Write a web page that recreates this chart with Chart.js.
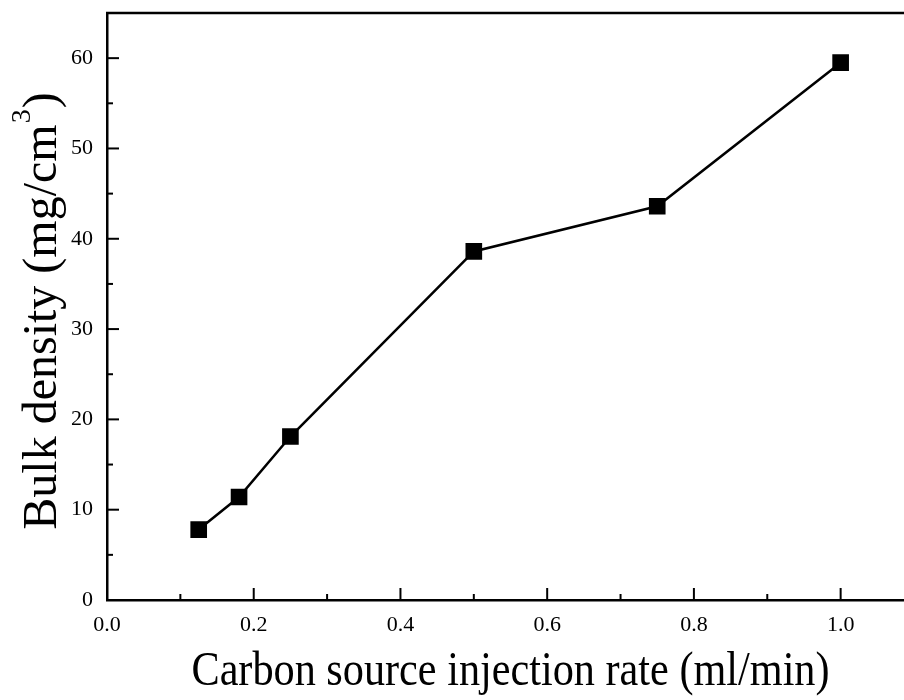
<!DOCTYPE html>
<html>
<head>
<meta charset="utf-8">
<script src="https://cdn.jsdelivr.net/npm/chart.js@4"></script>
<style>
    html, body { margin: 0; padding: 0; background: #fff; overflow: hidden; }
    #wrap { width: 904px; height: 700px; overflow: hidden; position: relative; }
    /* plot runs a little past the right edge, like the cropped original */
    #inner { width: 914px; height: 700px; position: absolute; left: 0; top: 0; }
</style>
</head>
<body>
<div id="wrap"><div id="inner"><canvas id="densityChart"></canvas></div></div>
<script>
// --- Data ---
const injectionRates = [0.125, 0.18, 0.25, 0.5, 0.75, 1.0];   // ml/min
const bulkDensity    = [7.8, 11.4, 18.1, 38.6, 43.6, 59.5];   // mg/cm3
const xTickValues    = [0, 0.2, 0.4, 0.6, 0.8, 1.0];
const xMinorValues   = [0.1, 0.3, 0.5, 0.7, 0.9];
const yTickValues    = [0, 10, 20, 30, 40, 50, 60];
const yMinorValues   = [5, 15, 25, 35, 45, 55];
const xTitle = 'Carbon source injection rate (ml/min)';

const FONT = "'Liberation Serif', 'Times New Roman', serif";

// Draws inward ticks, the top frame line and both axis titles
const frameAndTicks = {
    id: 'frameAndTicks',
    afterDraw(chart) {
        const ctx = chart.ctx;
        const area = chart.chartArea;
        const xs = chart.scales.x;
        const ys = chart.scales.y;
        ctx.save();
        ctx.strokeStyle = '#000';
        ctx.lineWidth = 2.5;
        // top frame line
        ctx.beginPath();
        ctx.moveTo(area.left - 1, area.top);
        ctx.lineTo(area.right + 2, area.top);
        ctx.stroke();

        ctx.lineWidth = 2;
        function tickX(v, len) {
            const px = xs.getPixelForValue(v);
            ctx.beginPath();
            ctx.moveTo(px, area.bottom);
            ctx.lineTo(px, area.bottom - len);
            ctx.stroke();
        }
        function tickY(v, len) {
            const py = ys.getPixelForValue(v);
            ctx.beginPath();
            ctx.moveTo(area.left, py);
            ctx.lineTo(area.left + len, py);
            ctx.stroke();
        }
        xTickValues.forEach(v => tickX(v, 12));
        xMinorValues.forEach(v => tickX(v, 6));
        yTickValues.forEach(v => tickY(v, 12));
        yMinorValues.forEach(v => tickY(v, 6));

        ctx.fillStyle = '#000';
        ctx.textBaseline = 'alphabetic';

        // x axis title (slightly condensed like the original)
        ctx.save();
        ctx.font = '48px ' + FONT;
        ctx.textAlign = 'center';
        ctx.translate((area.left + area.right) / 2, 685);
        ctx.scale(0.88, 1);
        ctx.fillText(xTitle, 0, 0);
        ctx.restore();

        // y axis title: Bulk density (mg/cm^3)
        const main = 'Bulk density (mg/cm';
        const sup = '3';
        const tail = ')';
        ctx.font = '48px ' + FONT;
        const wMain = ctx.measureText(main).width;
        const wTail = ctx.measureText(tail).width;
        ctx.font = '28px ' + FONT;
        const wSup = ctx.measureText(sup).width;
        const total = wMain + wSup + wTail;
        ctx.translate(56, 312);
        ctx.rotate(-Math.PI / 2);
        ctx.textAlign = 'left';
        const x0 = -total / 2;
        ctx.font = '48px ' + FONT;
        ctx.fillText(main, x0, 0);
        ctx.font = '28px ' + FONT;
        ctx.fillText(sup, x0 + wMain + 1, -26);
        ctx.font = '48px ' + FONT;
        ctx.fillText(tail, x0 + wMain + wSup + 2, 0);
        ctx.restore();
    }
};

function renderDensityChart() {
    const ctx = document.getElementById('densityChart');
    new Chart(ctx, {
        type: 'line',
        data: {
            datasets: [{
                data: injectionRates.map((x, i) => ({ x: x, y: bulkDensity[i] })),
                borderColor: '#000',
                backgroundColor: '#000',
                borderWidth: 2.5,
                pointStyle: 'rect',
                pointRadius: 10,
                pointHoverRadius: 10,
                tension: 0,
                fill: false,
                clip: false
            }]
        },
        options: {
            responsive: true,
            maintainAspectRatio: false,
            animation: false,
            layout: {
                autoPadding: false,
                padding: { top: 13, right: 0, left: 0, bottom: 0 }
            },
            plugins: {
                legend: { display: false },
                tooltip: { enabled: false }
            },
            scales: {
                x: {
                    type: 'linear',
                    min: 0,
                    max: 1.1,
                    grid: { display: false, drawTicks: false },
                    border: { display: true, color: '#000', width: 2.5 },
                    afterBuildTicks: s => { s.ticks = xTickValues.map(v => ({ value: v })); },
                    afterFit: s => {
                        s.height = 100;
                        s.paddingLeft = 0;
                        s.paddingRight = 0;
                    },
                    ticks: {
                        color: '#000',
                        padding: 12,
                        maxRotation: 0,
                        font: { family: FONT, size: 22 },
                        callback: v => v.toFixed(1)
                    }
                },
                y: {
                    min: 0,
                    max: 65,
                    grid: { display: false, drawTicks: false },
                    border: { display: true, color: '#000', width: 2.5 },
                    afterBuildTicks: s => { s.ticks = yTickValues.map(v => ({ value: v })); },
                    afterFit: s => {
                        s.width = 107;
                        s.paddingTop = 0;
                        s.paddingBottom = 0;
                    },
                    ticks: {
                        color: '#000',
                        padding: 14,
                        font: { family: FONT, size: 22 }
                    }
                }
            }
        },
        plugins: [frameAndTicks]
    });
}

document.addEventListener('DOMContentLoaded', renderDensityChart);
</script>
</body>
</html>
